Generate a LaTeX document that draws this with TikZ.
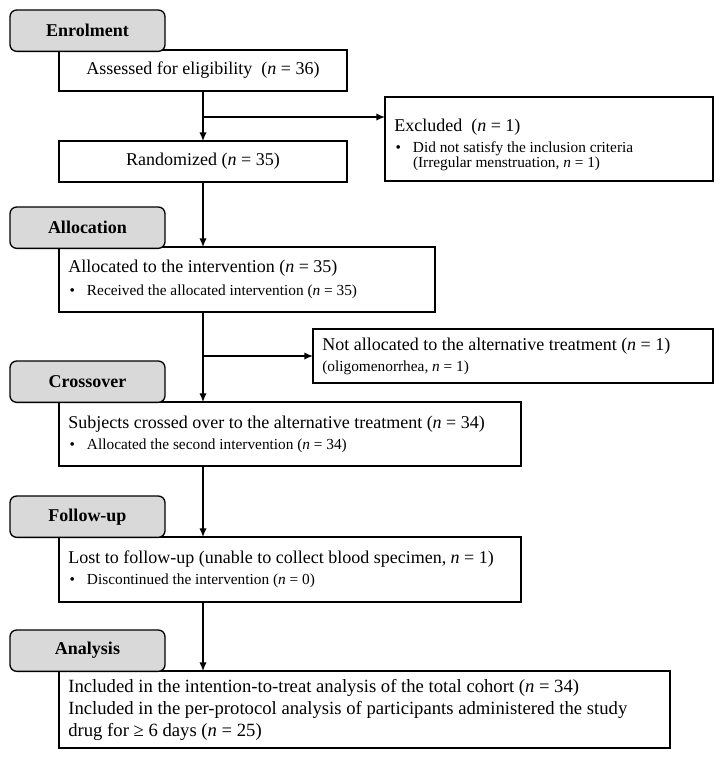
\documentclass[tikz,border=0pt]{standalone}
\usepackage{fontspec}
\setmainfont{Liberation Serif}
\usetikzlibrary{arrows.meta}
\newcommand{\nn}{\textit{n}}
\newcommand{\bl}{\makebox[14pt][l]{\hspace{1pt}\textbullet}}
\newcommand{\bi}{\hspace*{14pt}}
\newcommand{\mainf}{\fontsize{13.5}{16}\selectfont}
\newcommand{\smallf}{\fontsize{11.5}{11.25}\selectfont}
\newcommand{\subl}[2][4.5pt]{\par\vspace{#1}{\smallf #2\par}}
\tikzset{
  every picture/.style={x=0.75pt,y=-0.75pt},
  wbox/.style={draw, line width=1pt, fill=white, anchor=north west, inner ysep=2pt, inner xsep=7pt, outer sep=0pt, font=\mainf},
  lbox/.style={wbox, align=flush left, text width=#1-14pt, minimum width=#1},
  gbox/.style={draw, line width=1pt, fill=black!15, rounded corners=5pt, anchor=north west, minimum width=116.25pt, minimum height=31pt, inner sep=0pt, outer sep=0pt, font=\fontsize{13.5}{15}\selectfont\bfseries},
  arr/.style={line width=1pt, -{Latex[length=6.5pt,width=5.5pt]}},
}
\begin{document}
\begin{tikzpicture}
\useasboundingbox (0,0) rectangle (724,758);
% white boxes
\node[wbox, minimum width=216pt, minimum height=30.75pt] (assessed) at (59,50) {Assessed for eligibility\ \ (\nn{} = 36)};
\node[wbox, minimum width=216pt, minimum height=30.75pt] (random) at (59,141) {Randomized (\nn{} = 35)};
\node[lbox=246pt, minimum height=63pt] (excluded) at (385,97) {\rule{0pt}{18pt}Excluded\ \ (\nn{} = 1)
  \subl{\bl Did not satisfy the inclusion criteria\\ \bi(Irregular menstruation, \nn{} = 1)}};
\node[lbox=282pt, minimum height=48.75pt] (alloc) at (59,247) {Allocated to the intervention (\nn{} = 35)
  \subl[5.5pt]{\bl Received the allocated intervention (\nn{} = 35)}};
\node[lbox=300pt, minimum height=40.5pt] (notalloc) at (313,329) {Not allocated to the alternative treatment (\nn{} = 1)
  \subl{(oligomenorrhea, \nn{} = 1)}};
\node[lbox=346.5pt, minimum height=48pt] (cross) at (59,402) {Subjects crossed over to the alternative treatment (\nn{} = 34)
  \subl{\bl Allocated the second intervention (\nn{} = 34)}};
\node[lbox=346.5pt, minimum height=48.75pt] (lost) at (59,537) {Lost to follow-up (unable to collect blood specimen, \nn{} = 1)
  \subl{\bl Discontinued the intervention (\nn{} = 0)}};
\node[lbox=458.25pt, minimum height=57.75pt, font=\fontsize{14}{16.5}\selectfont] (incl) at (59,671) {Included in the intention-to-treat analysis of the total cohort (\nn{} = 34)\\
  Included in the per-protocol analysis of participants administered the study\\
  drug for ≥ 6 days (\nn{} = 25)};
% stage labels
\node[gbox] (s1) at (10,10) {Enrolment};
\node[gbox] (s2) at (10,207) {Allocation};
\node[gbox] (s3) at (10,361) {Crossover};
\node[gbox] (s4) at (10,496) {Follow-up};
\node[gbox] (s5) at (10,630) {Analysis};
% connectors
\coordinate (sp) at (203,0);
\coordinate (b1) at (203,117);
\coordinate (b2) at (203,356);
\draw[arr] (assessed.south) -- (random.north);
\draw[arr] (b1) -- (b1 -| excluded.west);
\draw[arr] (random.south) -- (sp |- alloc.north);
\draw[arr] (sp |- alloc.south) -- (sp |- cross.north);
\draw[arr] (b2) -- (b2 -| notalloc.west);
\draw[arr] (sp |- cross.south) -- (sp |- lost.north);
\draw[arr] (sp |- lost.south) -- (sp |- incl.north);
\end{tikzpicture}
\end{document}
